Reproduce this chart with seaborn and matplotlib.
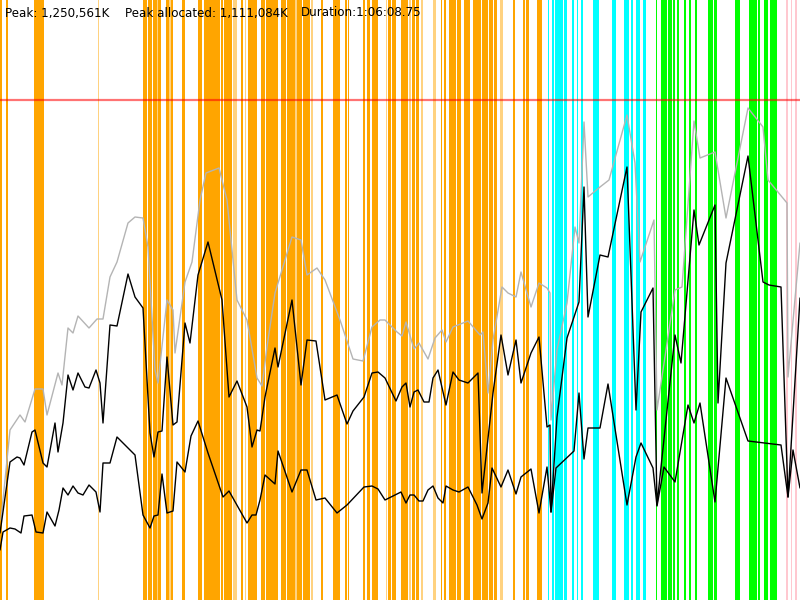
import matplotlib
matplotlib.use("Agg")
import matplotlib.pyplot as plt
import seaborn as sns
import pandas as pd

# ---- header texts ----
peak_text = "Peak: 1,250,561K"
alloc_text = "Peak allocated: 1,111,084K"
duration_text = "Duration:1:06:08.75"

# ---- time axis (screen-time units 0..800) and memory (height units, peak = 500) ----
PEAK = 500

gray_t = [1, 10, 20, 25, 35, 43, 47, 58, 62, 68, 73, 78, 89, 97, 103, 110, 117, 128, 135, 143,
          148, 155, 158, 167, 173, 175, 185, 192, 200, 206, 219, 227, 237, 247, 257, 262, 267,
          275, 292, 301, 307, 317, 325, 340, 353, 363, 372, 380, 385, 397, 402, 406, 414, 419,
          428, 435, 442, 446, 453, 468, 480, 483, 488, 493, 502, 508, 516, 521, 531, 539, 547,
          550, 551, 557, 567, 575, 579, 584, 588, 600, 609, 627, 635, 640, 654, 657, 675, 682,
          694, 700, 715, 726, 748, 763, 768, 787, 788, 800]
gray_v = [80, 170, 185, 178, 211, 211, 185, 227, 215, 272, 267, 284, 272, 281, 281, 323, 338, 377, 383, 382,
          353, 230, 217, 300, 290, 247, 318, 338, 400, 427, 432, 400, 300, 280, 222, 214, 253,
          307, 363, 360, 325, 332, 320, 280, 241, 239, 273, 280, 280, 268, 264, 278, 251, 257,
          241, 262, 270, 258, 273, 279, 265, 268, 207, 260, 313, 307, 303, 328, 293, 317, 312,
          307, 180, 250, 297, 373, 357, 478, 403, 413, 420, 485, 437, 338, 380, 190, 310, 313,
          479, 442, 448, 382, 492, 473, 420, 397, 223, 357]

upper_t = [0, 10, 17, 20, 24, 32, 35, 43, 47, 55, 58, 63, 68, 73, 78, 85, 89, 96, 100, 103,
           110, 117, 128, 135, 143, 150, 154, 158, 162, 167, 173, 177, 185, 190, 198, 208, 222,
           229, 237, 247, 252, 257, 260, 265, 275, 278, 292, 301, 307, 316, 325, 337, 347, 353,
           364, 372, 378, 385, 396, 402, 406, 410, 414, 418, 424, 429, 433, 438, 446, 453, 459,
           468, 478, 482, 493, 501, 508, 516, 521, 531, 539, 547, 550, 551, 557, 567, 579, 584,
           588, 600, 608, 627, 636, 641, 653, 657, 675, 681, 694, 699, 715, 718, 726, 748, 763,
           769, 781, 788, 800]
upper_v = [67, 138, 143, 142, 135, 168, 170, 137, 133, 177, 148, 177, 225, 210, 227, 213, 212, 230, 217, 177,
           275, 274, 326, 303, 292, 167, 143, 168, 169, 243, 175, 178, 277, 257, 325, 358, 300,
           203, 219, 193, 153, 170, 169, 203, 252, 233, 300, 215, 260, 259, 200, 205, 176, 189,
           203, 227, 228, 222, 199, 213, 217, 193, 208, 210, 198, 198, 222, 230, 195, 228, 220,
           217, 227, 107, 207, 265, 225, 260, 217, 247, 263, 173, 175, 88, 183, 262, 298, 413,
           283, 345, 343, 433, 190, 288, 312, 95, 265, 237, 390, 355, 395, 197, 337, 444, 318,
           315, 313, 103, 302]

lower_t = [0, 3, 10, 15, 21, 24, 32, 36, 43, 47, 55, 59, 63, 68, 73, 78, 83, 89, 96, 100,
           103, 110, 117, 128, 135, 143, 150, 154, 158, 162, 167, 173, 177, 185, 191, 198, 208,
           223, 229, 247, 252, 256, 260, 265, 275, 278, 292, 301, 307, 316, 325, 337, 347, 364,
           372, 378, 385, 401, 406, 410, 414, 419, 423, 428, 433, 438, 443, 446, 453, 459, 468,
           477, 482, 488, 492, 501, 508, 516, 521, 531, 539, 547, 551, 556, 574, 579, 584, 588,
           600, 608, 627, 636, 641, 653, 657, 664, 675, 688, 694, 700, 715, 726, 748, 781, 788,
           793, 800]
lower_v = [50, 68, 72, 71, 67, 84, 85, 68, 67, 88, 74, 90, 112, 105, 114, 107, 105, 115, 108, 88,
           137, 137, 163, 152, 145, 85, 72, 84, 85, 126, 87, 89, 138, 128, 164, 179, 147,
           103, 109, 77, 85, 85, 100, 125, 116, 149, 108, 130, 130, 100, 102, 87, 95, 113,
           114, 111, 100, 108, 97, 105, 105, 99, 99, 110, 114, 102, 97, 114, 110, 108, 113,
           95, 81, 97, 132, 113, 130, 106, 123, 131, 87, 133, 88, 132, 149, 207, 141, 172,
           172, 216, 95, 143, 157, 132, 94, 133, 118, 195, 177, 197, 98, 222, 159, 155, 103,
           150, 112]

# ---- event bands: start, end, kind ----
band_start = [0, 6, 34, 38, 97.7, 143, 148.3, 152.7, 156.7, 157.7, 165.5, 166, 169.3, 171, 181.7, 197.7,
              204, 209.3, 221, 223.7, 232.7, 241, 245, 247.7, 261, 265.7, 281, 286.7, 295, 297,
              302.7, 311, 321, 333.3, 345, 347.7, 363.3, 366.7, 372.3, 385.7, 388.3, 392.3,
              400.7, 409.3, 412.3, 416, 421, 433.3, 440.7, 444, 449, 453.3, 456.7, 464.3, 473.3,
              481.7, 489.3, 494.3, 500, 512.7, 522.7, 526, 536.7,
              548.3, 551.7, 554.7, 564, 571.7, 576.7, 581, 592.7, 611.7, 624, 630.7, 636, 642.7,
              655.7, 660.7, 667.7, 672.7, 677.3, 684, 689, 695, 707.7, 714, 735, 749.3, 758.3,
              764, 770,
              785.7, 790.7, 795]
band_end = [2, 8, 37.5, 44, 99.3, 146.7, 151.7, 156.7, 157.7, 161, 167, 169.3, 171, 173.3, 185, 201.7,
            208.7, 220, 223, 231.7, 237.3, 243.3, 246, 257.3, 265, 277.7, 286, 295, 297, 301.7,
            310, 312.7, 323.3, 340, 346.7, 349.3, 365, 370, 377.7, 387.3, 391, 395.7,
            408, 410.7, 415, 419.3, 423.3, 435.7, 442.3, 446, 452.7, 456, 461, 470, 480.7,
            488.3, 493.3, 496.7, 503.3, 515, 525, 529, 541.7,
            549.3, 554.3, 563.3, 567.3, 574, 578.3, 583.3, 599.3, 615.7, 629.3, 632.7, 640, 646,
            657.3, 666.7, 671.7, 675, 679, 686, 691, 696.7, 713.3, 717.3, 740, 756.7, 760,
            768.3, 776.7,
            787.7, 792.3, 796.7]
band_kind = ["o", "o", "o", "o", "l", "o", "o", "o", "l", "o", "l", "o", "l", "o", "o", "o",
             "o", "o", "o", "o", "l", "o", "l", "o", "o", "o", "o", "o", "l", "o",
             "o", "l", "o", "o", "o", "o", "o", "o", "o", "l", "o", "o",
             "o", "l", "o", "o", "l", "l", "o", "o", "o", "o", "o", "o", "o",
             "o", "o", "o", "l", "o", "o", "o", "o",
             "c", "c", "c", "c", "c", "c", "c", "c", "c", "c", "c", "c", "c",
             "g", "g", "g", "g", "g", "g", "g", "g", "g", "g", "g", "g", "g",
             "g", "g",
             "p", "p", "p"]

kind_color = {"o": "#FFA500", "l": "#FFD280", "c": "#00FFFF", "g": "#00FF00", "p": "#FFC8D0"}

sns.set_theme(style="white")
plt.rcParams["font.family"] = ["DejaVu Sans"]

fig = plt.figure(figsize=(8, 6), dpi=100)
ax = fig.add_axes([0, 0, 1, 1])

for s, e, k in zip(band_start, band_end, band_kind):
    ax.axvspan(s, e, color=kind_color[k], lw=0, zorder=1)

ax.axhline(PEAK, color="#FF0000", alpha=0.55, lw=1.6, zorder=3)

gray_df = pd.DataFrame({"t": gray_t, "mem": gray_v})
upper_df = pd.DataFrame({"t": upper_t, "mem": upper_v})
lower_df = pd.DataFrame({"t": lower_t, "mem": lower_v})
sns.lineplot(data=gray_df, x="t", y="mem", ax=ax, color="#B4B4B4", lw=1.0,
             estimator=None, sort=False, zorder=4)
sns.lineplot(data=upper_df, x="t", y="mem", ax=ax, color="black", lw=1.0,
             estimator=None, sort=False, zorder=5)
sns.lineplot(data=lower_df, x="t", y="mem", ax=ax, color="black", lw=1.0,
             estimator=None, sort=False, zorder=5)
ax.set_xlim(0, 800)
ax.set_ylim(0, 600)
ax.axis("off")

for xpos, txt in [(5, peak_text), (125, alloc_text), (301, duration_text)]:
    ax.text(xpos, 587, txt, fontsize=8.6, color="black", va="center", ha="left", zorder=6)

fig.savefig("out.png", dpi=100)
